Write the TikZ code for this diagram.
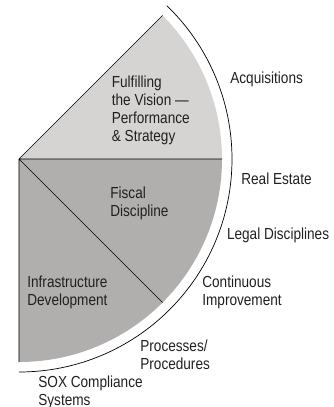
\documentclass[tikz,border=0pt]{standalone}
\usepackage{fontspec}
\setmainfont{Liberation Sans}[FakeStretch=0.85]
\definecolor{lightsector}{HTML}{D6D3D3}
\definecolor{darksector}{HTML}{B1AEAE}
\definecolor{inktext}{HTML}{231F20}
\begin{document}
\begin{tikzpicture}[x=1pt,y=1pt,line width=0.7pt,
  lbl/.style={anchor=base west,inner sep=0pt,align=left,text=inktext,
    font=\fontsize{16}{18}\selectfont}]
  \useasboundingbox (-19,-248) rectangle (314,159);
  \fill[lightsector] (0,0) -- (0:203) arc(0:45:203) -- cycle;
  \fill[darksector] (0,0) -- (-90:203) arc(-90:0:203) -- cycle;
  \draw (45:203) -- (0,0) -- (-90:203)
    (0,0) -- (0:203) (0,0) -- (-45:203);
  \draw (-90:213) arc(-90:46:213);
  \node[lbl] (vision) at (92.5,17.7) {Fulfilling\\the Vision ---\\Performance\\\& Strategy};
  \node[lbl] (fiscal) at (91,-57) {Fiscal\\Discipline};
  \node[lbl] (infra) at (8,-146.5) {Infrastructure\\Development};
  \node[lbl] (acq) at (211,75) {Acquisitions};
  \node[lbl] (realestate) at (222,-25.3) {Real Estate};
  \node[lbl] (legal) at (207.7,-80) {Legal Disciplines};
  \node[lbl] (improve) at (183,-146.5) {Continuous\\Improvement};
  \node[lbl] (procs) at (121,-210.5) {Processes/\\Procedures};
  \node[lbl] (sox) at (19,-246) {SOX Compliance\\Systems};
\end{tikzpicture}
\end{document}
